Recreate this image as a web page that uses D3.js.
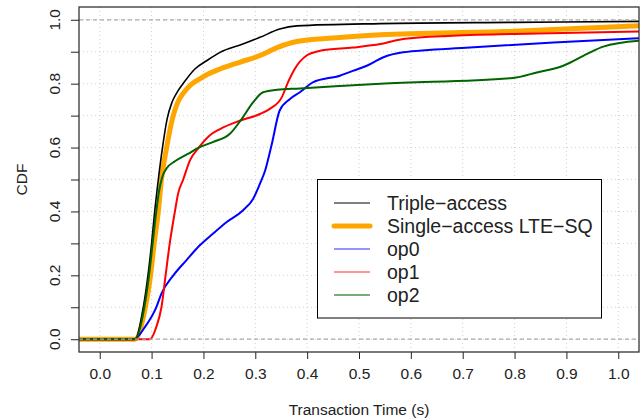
<!DOCTYPE html>
<html>
<head>
<meta charset="utf-8">
<script src="https://cdn.jsdelivr.net/npm/d3@7"></script>
<style>
  body { margin: 0; background: #fff; }
  text { font-family: "Liberation Sans", Arial, sans-serif; fill: #222; }
</style>
</head>
<body>
<svg id="svg_cdf" width="642" height="420"></svg>
<script>
// CDF samples: [transaction time (s), cdf]
const triple = [[-0.04, 0], [0.068, 0], [0.084, 0.1], [0.093, 0.2], [0.100, 0.3], [0.106, 0.4],
  [0.113, 0.5], [0.121, 0.6], [0.130, 0.69], [0.139, 0.74], [0.150, 0.775], [0.163, 0.805],
  [0.183, 0.845], [0.209, 0.875], [0.232, 0.898], [0.276, 0.924], [0.309, 0.945], [0.347, 0.971],
  [0.380, 0.981], [0.541, 0.988], [0.8, 0.992], [1.04, 0.995]]
const singleLte = [[-0.04, 0], [0.068, 0], [0.088, 0.1], [0.098, 0.2], [0.105, 0.3], [0.113, 0.4],
  [0.119, 0.5], [0.129, 0.6], [0.140, 0.69], [0.150, 0.74], [0.162, 0.772], [0.176, 0.797],
  [0.193, 0.815], [0.209, 0.83], [0.232, 0.846], [0.270, 0.867], [0.309, 0.888], [0.342, 0.913],
  [0.380, 0.932], [0.450, 0.943], [0.541, 0.953], [0.778, 0.963], [1.04, 0.981]]
const op0 = [[-0.04, 0], [0.066, 0], [0.087, 0.038], [0.109, 0.1], [0.119, 0.143], [0.142, 0.2],
  [0.167, 0.247], [0.193, 0.294], [0.218, 0.33], [0.245, 0.367], [0.276, 0.403], [0.296, 0.44],
  [0.309, 0.487], [0.319, 0.528], [0.332, 0.612], [0.347, 0.716], [0.367, 0.752], [0.386, 0.773],
  [0.411, 0.804], [0.463, 0.825], [0.488, 0.84], [0.515, 0.856], [0.546, 0.882], [0.585, 0.898],
  [0.714, 0.913], [0.875, 0.929], [1.04, 0.942]]
const op1 = [[-0.04, 0], [0.097, 0], [0.109, 0.038], [0.119, 0.1], [0.127, 0.2], [0.135, 0.3],
  [0.145, 0.4], [0.151, 0.455], [0.161, 0.5], [0.174, 0.56], [0.191, 0.6], [0.212, 0.638],
  [0.232, 0.658], [0.270, 0.684], [0.309, 0.705], [0.328, 0.721], [0.351, 0.757], [0.363, 0.804],
  [0.376, 0.846], [0.399, 0.888], [0.425, 0.903], [0.488, 0.913], [0.541, 0.924], [0.585, 0.94],
  [0.681, 0.95], [0.843, 0.957], [1.04, 0.963]]
const op2 = [[-0.04, 0], [0.068, 0], [0.086, 0.1], [0.095, 0.2], [0.102, 0.3], [0.109, 0.4],
  [0.114, 0.46], [0.120, 0.505], [0.129, 0.535], [0.145, 0.557], [0.17, 0.58], [0.191, 0.6],
  [0.218, 0.617], [0.251, 0.643], [0.274, 0.69], [0.296, 0.742], [0.315, 0.773], [0.342, 0.781],
  [0.386, 0.785], [0.541, 0.80], [0.797, 0.818], [0.843, 0.835], [0.894, 0.856], [0.94, 0.893],
  [0.971, 0.916], [1.04, 0.934]]

const seriesNames = ['Triple\u2212access', 'Single\u2212access LTE\u2212SQ', 'op0', 'op1', 'op2']
const xTicks = [0, 0.1, 0.2, 0.3, 0.4, 0.5, 0.6, 0.7, 0.8, 0.9, 1.0]
const yTicks = [0, 0.1, 0.2, 0.3, 0.4, 0.5, 0.6, 0.7, 0.8, 0.9, 1.0]
const yLabels = [0, 0.2, 0.4, 0.6, 0.8, 1.0]

const svg = d3.select('#svg_cdf')

const margin = { top: 7, right: 3, bottom: 68, left: 79 }
const width = 642 - (margin.left + margin.right)
const height = 420 - (margin.top + margin.bottom)

const x = d3.scaleLinear().domain([-0.04, 1.04]).range([margin.left, margin.left + width])
const y = d3.scaleLinear().domain([-0.04, 1.04]).range([margin.top + height, margin.top])

const series = [
  { name: seriesNames[0], data: triple, color: '#000000', width: 1.6, legendColor: '#000000', legendWidth: 1 },
  { name: seriesNames[1], data: singleLte, color: '#FFA500', width: 5, legendColor: '#FFA500', legendWidth: 5 },
  { name: seriesNames[2], data: op0, color: '#0000FF', width: 2, legendColor: '#7070ff', legendWidth: 1.5 },
  { name: seriesNames[3], data: op1, color: '#FF0000', width: 2, legendColor: '#ff7070', legendWidth: 1.5 },
  { name: seriesNames[4], data: op2, color: '#006400', width: 2, legendColor: '#4c8f4c', legendWidth: 1.5 },
]

svg.append('defs').append('clipPath').attr('id', 'plotClip')
  .append('rect')
  .attr('x', margin.left).attr('y', margin.top)
  .attr('width', width).attr('height', height)

// dotted grid
const grid = svg.append('g')
grid.selectAll('.gx').data(xTicks).enter().append('line')
  .attr('x1', d => x(d)).attr('x2', d => x(d))
  .attr('y1', margin.top).attr('y2', margin.top + height)
  .attr('stroke', '#d0d0d0').attr('stroke-dasharray', '1,3')
grid.selectAll('.gy').data(yTicks).enter().append('line')
  .attr('y1', d => y(d)).attr('y2', d => y(d))
  .attr('x1', margin.left).attr('x2', margin.left + width)
  .attr('stroke', '#d0d0d0').attr('stroke-dasharray', '1,3')

// curves
const line = d3.line()
  .x(d => x(d[0]))
  .y(d => y(d[1]))
  .curve(d3.curveMonotoneX)

const drawOrder = [1, 0, 2, 3, 4]
svg.append('g').attr('clip-path', 'url(#plotClip)')
  .selectAll('path')
  .data(drawOrder.map(i => series[i]))
  .enter()
  .append('path')
  .attr('d', d => line(d.data))
  .attr('fill', 'none')
  .attr('stroke', d => d.color)
  .attr('stroke-width', d => d.width)
  .attr('stroke-linejoin', 'round')

// dashed reference lines at 0 and 1
svg.append('g')
  .selectAll('line')
  .data([0, 1])
  .enter()
  .append('line')
  .attr('x1', margin.left).attr('x2', margin.left + width)
  .attr('y1', d => y(d)).attr('y2', d => y(d))
  .attr('stroke', '#aaaaaa').attr('stroke-width', 1.2)
  .attr('stroke-dasharray', '4,3')

// axes
const xAxis = svg.append('g')
  .attr('transform', `translate(0, ${margin.top + height})`)
  .call(d3.axisBottom(x).tickValues(xTicks).tickSize(7).tickPadding(9).tickFormat(d3.format('.1f')))
xAxis.select('.domain').remove()
xAxis.selectAll('line').attr('stroke', '#222')
xAxis.selectAll('text').attr('font-size', '15.5px').attr('font-family', '"Liberation Sans", Arial, sans-serif').attr('fill', '#222')

const yAxis = svg.append('g')
  .attr('transform', `translate(${margin.left}, 0)`)
  .call(d3.axisLeft(y).tickValues(yTicks).tickSize(8).tickFormat(() => ''))
yAxis.select('.domain').remove()
yAxis.selectAll('line').attr('stroke', '#222')

svg.append('g')
  .selectAll('text')
  .data(yLabels)
  .enter()
  .append('text')
  .attr('transform', d => `translate(60, ${y(d)}) rotate(-90)`)
  .attr('text-anchor', 'middle')
  .attr('font-size', '15.5px')
  .text(d3.format('.1f'))

// frame
svg.append('rect')
  .attr('x', margin.left).attr('y', margin.top)
  .attr('width', width).attr('height', height)
  .attr('fill', 'none').attr('stroke', '#333').attr('stroke-width', 1.3)

// titles
svg.append('text')
  .attr('x', margin.left + width / 2).attr('y', 415)
  .attr('text-anchor', 'middle')
  .attr('font-size', '15.5px')
  .text('Transaction Time (s)')

svg.append('text')
  .attr('transform', `translate(27, ${margin.top + height / 2}) rotate(-90)`)
  .attr('text-anchor', 'middle')
  .attr('font-size', '15.5px')
  .text('CDF')

// legend
const legend = svg.append('g')
legend.append('rect')
  .attr('x', 317.5).attr('y', 179.5)
  .attr('width', 284).attr('height', 138.5)
  .attr('fill', '#fff').attr('stroke', '#000').attr('stroke-width', 1)

legend.selectAll('line')
  .data(series)
  .enter()
  .append('line')
  .attr('x1', 334).attr('x2', 370)
  .attr('y1', (d, i) => 203 + i * 23).attr('y2', (d, i) => 203 + i * 23)
  .attr('stroke', d => d.legendColor)
  .attr('stroke-width', d => d.legendWidth)
  .attr('stroke-linecap', d => d.legendWidth > 3 ? 'round' : 'butt')

legend.selectAll('text')
  .data(series)
  .enter()
  .append('text')
  .attr('x', 387)
  .attr('y', (d, i) => 203 + i * 23 + 7)
  .attr('font-size', '19.5px')
  .text(d => d.name)
</script>
</body>
</html>
